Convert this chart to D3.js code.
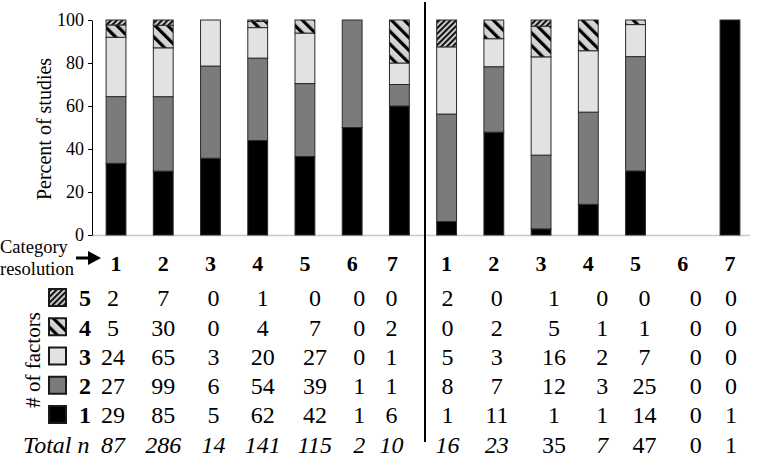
<!DOCTYPE html>
<html>
<head>
<meta charset="utf-8">
<script src="https://cdn.jsdelivr.net/npm/d3@7/dist/d3.min.js"></script>
<style>
  body { margin: 0; background: #fff; }
  svg text { font-family: "Liberation Serif", "DejaVu Serif", "Times New Roman", Times, serif; fill: #000; }
</style>
</head>
<body>
<svg id="chart" width="757" height="458"></svg>
<script>
// category resolution 1..7, two panels of studies
var categories = ["1", "2", "3", "4", "5", "6", "7"];
var factorKeys = ["f1", "f2", "f3", "f4", "f5"];
var factorLabels = ["1", "2", "3", "4", "5"];

// left panel counts (# of factors = 1..5)
var leftF1 = [29, 85, 5, 62, 42, 1, 6];
var leftF2 = [27, 99, 6, 54, 39, 1, 1];
var leftF3 = [24, 65, 3, 20, 27, 0, 1];
var leftF4 = [5, 30, 0, 4, 7, 0, 2];
var leftF5 = [2, 7, 0, 1, 0, 0, 0];

// right panel counts
var rightF1 = [1, 11, 1, 1, 14, 0, 1];
var rightF2 = [8, 7, 12, 3, 25, 0, 0];
var rightF3 = [5, 3, 16, 2, 7, 0, 0];
var rightF4 = [0, 2, 5, 1, 1, 0, 0];
var rightF5 = [2, 0, 1, 0, 0, 0, 0];

var yTicks = [0, 20, 40, 60, 80, 100];

// layout tweaks for the table (not data)
var colShift = [-3, 0, 3, 5, 10, 7, -8, 1, 3, 13, 14, 9, 13, 1];
var headShift = [0, 0, 0, 0, 0, 0, -7, 0, 0, 0, 0, 0, 0, 0];
var totalItalic = [1, 1, 1, 1, 1, 1, 1, 1, 1, 0, 1, 0, 0, 0];

var serif = "'Liberation Serif', 'DejaVu Serif', 'Times New Roman', serif";

var rows = [];
categories.forEach(function (c, i) {
    rows.push({key: "L" + c, cat: c, f1: leftF1[i], f2: leftF2[i], f3: leftF3[i], f4: leftF4[i], f5: leftF5[i]});
});
categories.forEach(function (c, i) {
    rows.push({key: "R" + c, cat: c, f1: rightF1[i], f2: rightF2[i], f3: rightF3[i], f4: rightF4[i], f5: rightF5[i]});
});
rows.forEach(function (d) {
    d.total = d3.sum(factorKeys, function (k) { return d[k]; });
});

var svg = d3.select("#chart").attr("font-family", serif);

// patterns
var defs = svg.append("defs");
var p4 = defs.append("pattern").attr("id", "pat4")
    .attr("patternUnits", "userSpaceOnUse").attr("width", 9).attr("height", 9)
    .attr("patternTransform", "rotate(-45)");
p4.append("rect").attr("width", 9).attr("height", 9).attr("fill", "#d4d4d4");
p4.append("rect").attr("width", 3.2).attr("height", 9).attr("fill", "#000");

var p5 = defs.append("pattern").attr("id", "pat5")
    .attr("patternUnits", "userSpaceOnUse").attr("width", 4).attr("height", 4)
    .attr("patternTransform", "rotate(45)");
p5.append("rect").attr("width", 4).attr("height", 4).attr("fill", "#c8c8c8");
p5.append("rect").attr("width", 1.8).attr("height", 4).attr("fill", "#000");

var fills = {f1: "#000", f2: "#7b7b7b", f3: "#e2e2e2", f4: "url(#pat4)", f5: "url(#pat5)"};

var x = d3.scaleBand()
    .domain(rows.map(function (d) { return d.key; }))
    .range([92.4, 753.6])
    .paddingInner(0.58)
    .paddingOuter(0.29);

var y = d3.scaleLinear().domain([0, 100]).range([235, 20]);

var stack = d3.stack().keys(factorKeys).offset(d3.stackOffsetExpand);
var series = stack(rows);

// baseline
svg.append("line")
    .attr("x1", 92).attr("x2", 750)
    .attr("y1", y(0) + 0.5).attr("y2", y(0) + 0.5)
    .attr("stroke", "#c8c8c8").attr("stroke-width", 1.5);

svg.append("g").selectAll("g")
    .data(series)
    .join("g")
    .attr("fill", function (s) { return fills[s.key]; })
    .selectAll("rect")
    .data(function (s) { return s.filter(function (d) { return d[1] > d[0]; }); })
    .join("rect")
    .attr("x", function (d) { return x(d.data.key); })
    .attr("width", x.bandwidth())
    .attr("y", function (d) { return y(d[1] * 100); })
    .attr("height", function (d) { return y(d[0] * 100) - y(d[1] * 100); })
    .attr("stroke", "#2a2a2a")
    .attr("stroke-width", 1);

// y axis
var yAxis = svg.append("g")
    .attr("transform", "translate(92,0)")
    .call(d3.axisLeft(y).tickValues(yTicks).tickSize(4).tickSizeOuter(0).tickPadding(4));
yAxis.attr("font-family", serif).attr("font-size", 18);
yAxis.select(".domain").attr("stroke", "#000");
yAxis.selectAll(".tick line").attr("stroke", "#000");
yAxis.selectAll(".tick text").attr("fill", "#000");

svg.append("text")
    .attr("transform", "translate(51,129) rotate(-90)")
    .attr("text-anchor", "middle")
    .attr("font-size", 20)
    .text("Percent of studies");

// divider between the panels
var midX = (x("L7") + x.bandwidth() + x("R1")) / 2 + 2;
svg.append("line")
    .attr("x1", midX).attr("x2", midX)
    .attr("y1", 2).attr("y2", 442)
    .attr("stroke", "#000").attr("stroke-width", 2);

// table
var headY = 263;
var rowY = d3.scalePoint().domain(["5", "4", "3", "2", "1"]).range([298, 415]);
var totalY = 445;
var cx = function (d) { return x(d.key) + x.bandwidth() / 2; };

svg.append("text").attr("x", 0).attr("y", 253).attr("font-size", 18.5).text("Category");
svg.append("text").attr("x", 0).attr("y", 275).attr("font-size", 18.5).text("resolution");

// arrow
svg.append("line")
    .attr("x1", 76).attr("x2", 90)
    .attr("y1", 258).attr("y2", 258)
    .attr("stroke", "#000").attr("stroke-width", 3);
svg.append("path")
    .attr("d", "M88,251 L101,258 L88,265 Z")
    .attr("fill", "#000");

svg.append("g").selectAll("text")
    .data(rows)
    .join("text")
    .attr("x", function (d, i) { return cx(d) + headShift[i]; })
    .attr("y", headY)
    .attr("dy", "0.35em")
    .attr("text-anchor", "middle")
    .attr("font-size", 22)
    .attr("font-weight", "bold")
    .text(function (d) { return d.cat; });

var valueRows = svg.append("g");
factorKeys.slice().reverse().forEach(function (k) {
    var lab = factorLabels[factorKeys.indexOf(k)];
    valueRows.append("g").selectAll("text")
        .data(rows)
        .join("text")
        .attr("x", function (d, i) { return cx(d) + colShift[i]; })
        .attr("y", rowY(lab))
        .attr("dy", "0.35em")
        .attr("text-anchor", "middle")
        .attr("font-size", 24)
        .text(function (d) { return d[k]; });

    svg.append("text")
        .attr("x", 85).attr("y", rowY(lab)).attr("dy", "0.35em")
        .attr("text-anchor", "middle")
        .attr("font-size", 24).attr("font-weight", "bold")
        .text(lab);

    svg.append("rect")
        .attr("x", 49).attr("y", rowY(lab) - 9)
        .attr("width", 17).attr("height", 17)
        .attr("fill", fills[k])
        .attr("stroke", "#1a1a1a").attr("stroke-width", 2);
});

svg.append("g").selectAll("text")
    .data(rows)
    .join("text")
    .attr("x", function (d, i) { return cx(d) + colShift[i]; })
    .attr("y", totalY)
    .attr("dy", "0.35em")
    .attr("text-anchor", "middle")
    .attr("font-size", 24)
    .attr("font-style", function (d, i) { return totalItalic[i] ? "italic" : "normal"; })
    .text(function (d) { return d.total; });

svg.append("text")
    .attr("x", 23).attr("y", totalY).attr("dy", "0.35em")
    .attr("font-size", 24).attr("font-style", "italic")
    .text("Total n");

svg.append("text")
    .attr("transform", "translate(33,360) rotate(-90)")
    .attr("text-anchor", "middle")
    .attr("dy", "0.35em")
    .attr("font-size", 21)
    .text("# of factors");
</script>
</body>
</html>
